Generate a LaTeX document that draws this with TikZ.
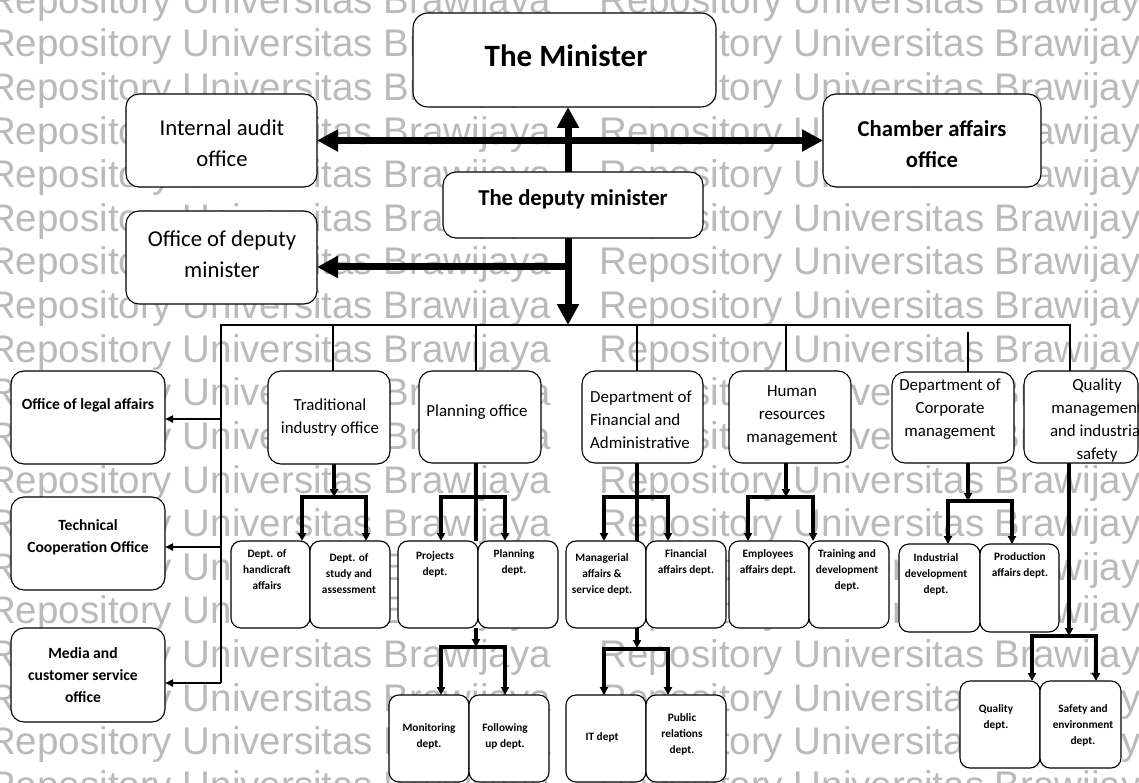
\documentclass[tikz,border=0pt]{standalone}
\usepackage{fontspec}
\setmainfont{Carlito}
\newfontfamily\wmfont{Liberation Sans}
\usetikzlibrary{arrows.meta,fit}
\tikzset{
  box/.style={draw, fill=white, line width=1.1pt, rounded corners=#1, inner sep=0pt, outer sep=0pt},
  box/.default=10pt,
  wm/.style={anchor=base west, inner sep=0pt, text=black!27, font=\wmfont\fontsize{38.5}{38.5}\selectfont},
  tA/.style={inner sep=0pt, font=\fontsize{31}{37}\selectfont\bfseries},
  tB/.style={inner sep=0pt, align=center, font=\fontsize{22.7}{31}\selectfont},
  tBb/.style={inner sep=0pt, align=center, font=\fontsize{22.7}{31}\selectfont\bfseries},
  tC/.style={inner sep=0pt, align=center, font=\fontsize{16.9}{23}\selectfont},
  tL/.style={inner sep=0pt, align=center, font=\fontsize{15.6}{22}\selectfont\bfseries},
  tS/.style={inner sep=0pt, align=center, font=\fontsize{11.3}{16}\selectfont\bfseries},
  bigarrow/.style={line width=7pt, -{Triangle[length=21pt,width=21pt]}},
  bigboth/.style={line width=7pt, {Triangle[length=21pt,width=21pt]}-{Triangle[length=21pt,width=21pt]}},
  barline/.style={line width=2.4pt},
  thinarrow/.style={line width=2.2pt, -{Triangle[length=8pt,width=7pt]}},
  subline/.style={line width=3.2pt},
  subarrow/.style={line width=3.2pt, -{Triangle[length=8pt,width=8pt]}},
  subboth/.style={line width=3.2pt, line join=miter, {Triangle[length=8pt,width=8pt]}-{Triangle[length=8pt,width=8pt]}},
}
\begin{document}
\begin{tikzpicture}[x=1pt,y=-1pt]
\useasboundingbox (0,0) rectangle (1139,783);
\clip (0,0) rectangle (1139,783);
\fill[white] (0,0) rectangle (1139,783);
% watermark
\foreach \r in {0,...,18}{
  \node[wm] (wl\r) at (-12,{13.4+43.6*\r}) {Repository Universitas Brawijaya};
  \node[wm] (wr\r) at (599,{13.4+43.6*\r}) {Repository Universitas Brawijaya};
}
% ---------- top level boxes
\node[box=15pt, fit={(413,13) (716,107)}] (min) {};
\node[tA] (min-t) at (566,56) {The Minister};
\node[box=13pt, fit={(126,94) (317,187)}] (ia) {};
\node[tB] (ia-t) at (222,143) {Internal audit\\office};
\node[box=13pt, fit={(823,94) (1041,187)}] (ch) {};
\node[tBb] (ch-t) at (932,144) {Chamber affairs\\office};
\node[box=13pt, fit={(443,172) (703,238)}] (dep) {};
\node[tBb] (dep-t) at (573,199) {The deputy minister};
\node[box=13pt, fit={(126,211) (317,304)}] (od) {};
\node[tB] (od-t) at (222,254) {Office of deputy\\minister};
% ---------- left column boxes
\node[box=13pt, fit={(11,371) (165,464)}] (legal) {};
\node[tL] (legal-t) at (88,405) {Office of legal affairs};
\node[box=13pt, fit={(11,497) (165,590)}] (tech) {};
\node[tL] (tech-t) at (88,537) {Technical\\Cooperation Office};
\node[box=13pt, fit={(11,628) (165,722)}] (media) {};
\node[tL] (media-t) at (83,675) {Media and\\customer service\\office};
% ---------- second row boxes
\node[box=13pt, fit={(268,371) (390,464)}] (trad) {};
\node[tC] (trad-t) at (330,417) {Traditional\\industry office};
\node[box=13pt, fit={(419,371) (541,463)}] (plan) {};
\node[tC] (plan-t) at (477,412) {Planning office};
\node[box=13pt, fit={(582,371) (703,463)}] (fin) {};
\node[tC, align=left, anchor=west] (fin-t) at (590,420) {Department of\\Financial and\\Administrative};
\node[box=13pt, fit={(729,371) (851,463)}] (hr) {};
\node[tC] (hr-t) at (792,416) {Human\\resources\\management};
\node[box=13pt, fit={(892,372) (1014,463)}] (corp) {};
\node[tC] (corp-t) at (950,409) {Department of\\Corporate\\management};
\node[box=13pt, fit={(1024,371) (1138,463)}] (qm) {};
\node[tC] (qm-t) at (1097,420) {Quality\\management\\and industrial\\safety};
% ---------- small boxes
\node[box, fit={(231,541) (310,628)}] (hand) {};
\node[tS] (hand-t) at (267,570) {Dept. of\\handicraft\\affairs};
\node[box, fit={(310,541) (390,628)}] (study) {};
\node[tS] (study-t) at (349,574) {Dept. of\\study and\\assessment};
\node[box, fit={(398,541) (478,628)}] (proj) {};
\node[tS] (proj-t) at (435,564) {Projects\\dept.};
\node[box, fit={(478,541) (558,628)}] (pdept) {};
\node[tS] (pdept-t) at (514,562) {Planning\\dept.};
\node[box, fit={(389,695) (469,782)}] (mon) {};
\node[tS] (mon-t) at (429,736) {Monitoring\\dept.};
\node[box, fit={(469,695) (549,782)}] (fol) {};
\node[tS] (fol-t) at (505,736) {Following\\up dept.};
\node[box, fit={(566,541) (646,628)}] (mgr) {};
\node[tS] (mgr-t) at (602,574) {Managerial\\affairs \&\\service dept.};
\node[box, fit={(646,541) (726,628)}] (faff) {};
\node[tS] (faff-t) at (686,562) {Financial\\affairs dept.};
\node[box, fit={(566,695) (646,782)}] (it) {};
\node[tS] (it-t) at (602,737) {IT dept};
\node[box, fit={(646,695) (726,782)}] (pr) {};
\node[tS] (pr-t) at (682,734) {Public\\relations\\dept.};
\node[box, fit={(729,541) (809,628)}] (emp) {};
\node[tS] (emp-t) at (768,562) {Employees\\affairs dept.};
\node[box, fit={(809,541) (889,628)}] (trn) {};
\node[tS] (trn-t) at (847,570) {Training and\\development\\dept.};
\node[box, fit={(899,544) (980,632)}] (ind) {};
\node[tS] (ind-t) at (936,574) {Industrial\\development\\dept.};
\node[box, fit={(980,544) (1059,632)}] (prod) {};
\node[tS] (prod-t) at (1020,565) {Production\\affairs dept.};
\node[box, fit={(960,681) (1040,768)}] (qd) {};
\node[tS] (qd-t) at (996,717) {Quality\\dept.};
\node[box, fit={(1040,681) (1121,768)}] (saf) {};
\node[tS] (saf-t) at (1083,725) {Safety and\\environment\\dept.};
% ---------- top connectors
\coordinate (tk) at (568,0);
\draw[bigboth] (ia.east) -- (ch.west);
\draw[bigarrow] (dep.north -| tk) -- (min.south -| tk);
\coordinate (j1) at (568,267);
\draw[bigarrow] (j1) -- (j1 -| od.east);
\coordinate (b0) at (568,325);
\draw[bigarrow] (dep.south -| tk) -- (b0);
% ---------- distribution bar
\coordinate (bL) at (221,325);
\coordinate (bR) at (1070,325);
\coordinate (lb) at (221,683);
\draw[barline] (lb) -- (bL) -- (bR) -- (bR |- qm.north);
\coordinate (x1) at (333,325);
\coordinate (x2) at (476,325);
\coordinate (x3) at (637,325);
\coordinate (x4) at (786,325);
\coordinate (x5) at (968,332);
\draw[barline] (x1) -- (x1 |- trad.north);
\draw[barline] (x2) -- (x2 |- plan.north);
\draw[barline] (x3) -- (x3 |- fin.north);
\draw[barline] (x4) -- (x4 |- hr.north);
\draw[barline] (x5) -- (x5 |- corp.north);
% ---------- left arrows
\coordinate (l1) at (221,419);
\coordinate (l2) at (221,547);
\draw[thinarrow] (l1) -- (l1 -| legal.east);
\draw[thinarrow] (l2) -- (l2 -| tech.east);
\draw[thinarrow] (lb) -- (lb -| media.east);
% ---------- traditional industry
\coordinate (tj) at (334,497);
\coordinate (tl) at (302,497);
\coordinate (tr) at (366,497);
\draw[subarrow] (tj |- trad.south) -- (tj);
\draw[subboth] (tl |- hand.north) -- (tl) -- (tr) -- (tr |- study.north);
% ---------- planning
\coordinate (pj) at (476,497);
\coordinate (pl) at (441,497);
\coordinate (pr1) at (505,497);
\draw[subline] (pj |- plan.south) -- (pj |- proj.north);
\draw[subboth] (pl |- proj.north) -- (pl) -- (pr1) -- (pr1 |- pdept.north);
\coordinate (pj2) at (476,647);
\coordinate (pl2) at (441,647);
\coordinate (pr2) at (505,647);
\draw[subarrow] (pj2 |- proj.south) -- (pj2);
\draw[subboth] (pl2 |- mon.north) -- (pl2) -- (pr2) -- (pr2 |- fol.north);
% ---------- financial
\coordinate (fj) at (637,497);
\coordinate (fl) at (604,497);
\coordinate (fr) at (668,497);
\draw[subline] (fj |- fin.south) -- (fj |- mgr.north);
\draw[subboth] (fl |- mgr.north) -- (fl) -- (fr) -- (fr |- faff.north);
\coordinate (fj2) at (637,648);
\coordinate (fl2) at (604,649);
\coordinate (fr2) at (668,649);
\draw[subarrow] (fj2 |- mgr.south) -- (fj2);
\draw[subboth] (fl2 |- it.north) -- (fl2) -- (fr2) -- (fr2 |- pr.north);
% ---------- human resources
\coordinate (hj) at (786,497);
\coordinate (hl) at (748,497);
\coordinate (hr2) at (813,497);
\draw[subarrow] (hj |- hr.south) -- (hj);
\draw[subboth] (hl |- emp.north) -- (hl) -- (hr2) -- (hr2 |- trn.north);
% ---------- corporate
\coordinate (cj) at (968,501);
\coordinate (cl) at (948,501);
\coordinate (cr) at (1012,501);
\draw[subarrow] (cj |- corp.south) -- (cj);
\draw[subboth] (cl |- ind.north) -- (cl) -- (cr) -- (cr |- prod.north);
% ---------- quality
\coordinate (qj) at (1069,636);
\coordinate (ql) at (1032,636);
\coordinate (qr) at (1096,636);
\draw[subarrow] (qj |- qm.south) -- (qj);
\draw[subboth] (ql |- qd.north) -- (ql) -- (qr) -- (qr |- saf.north);
\end{tikzpicture}
\end{document}
